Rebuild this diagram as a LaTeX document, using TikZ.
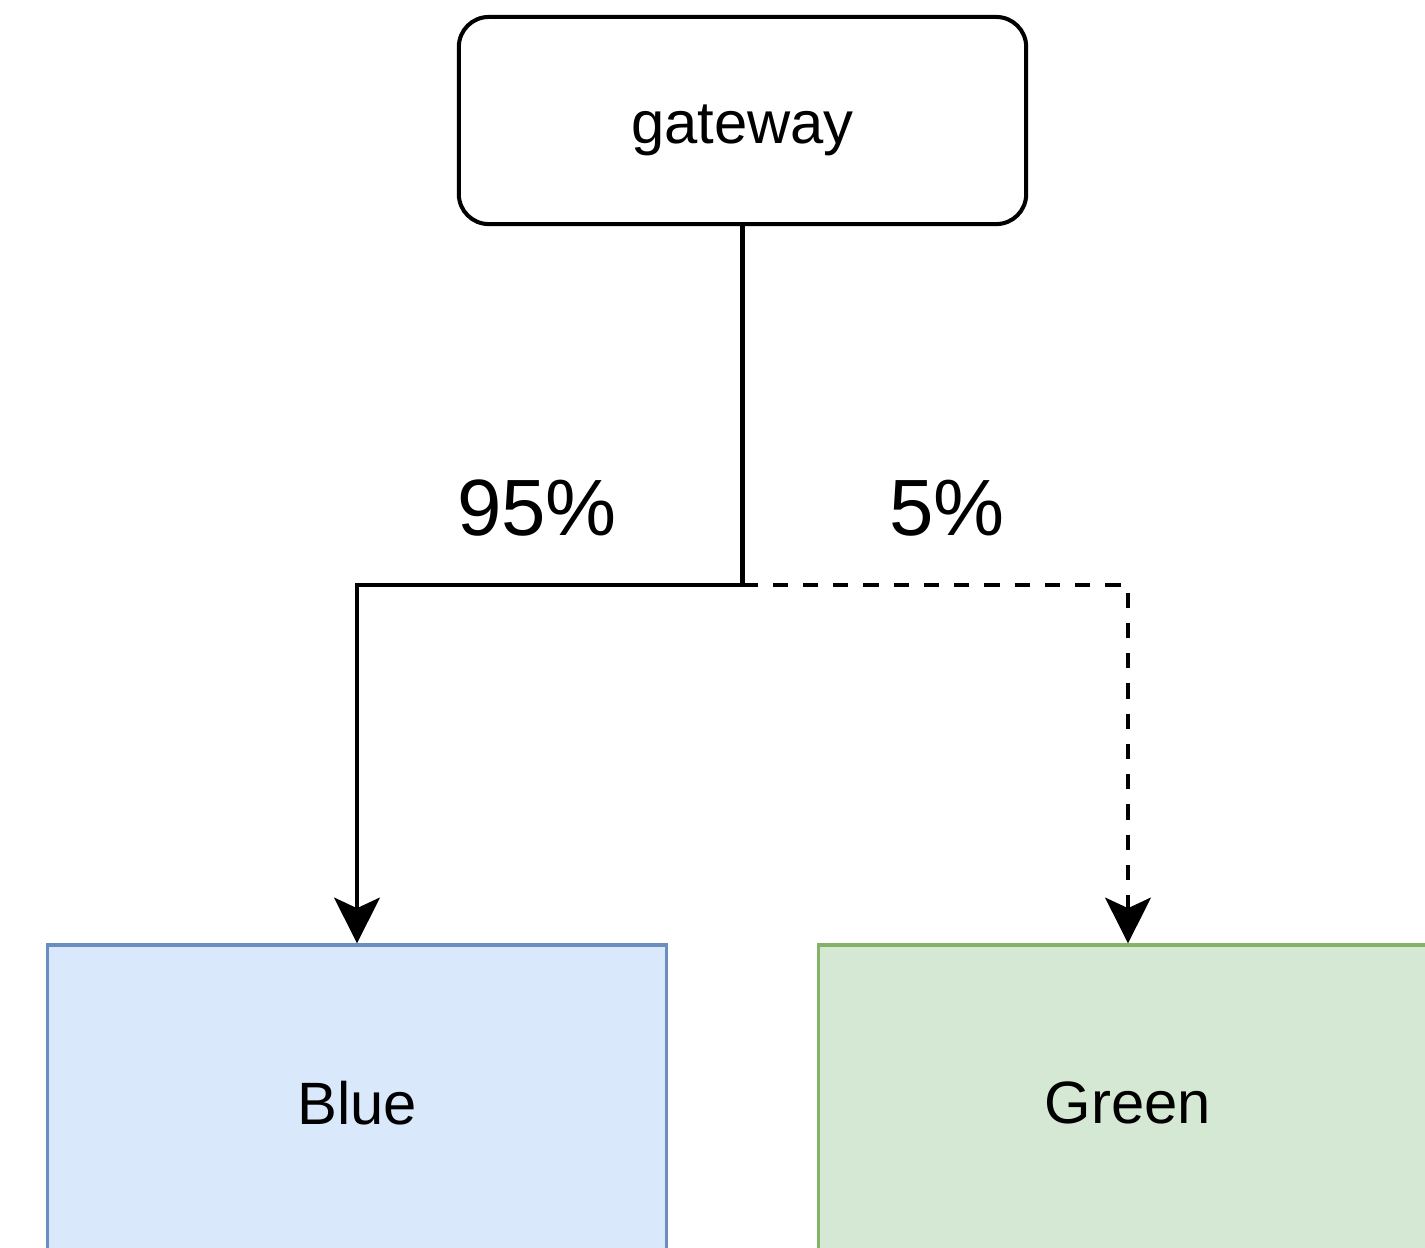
\documentclass[tikz,border=0pt]{standalone}
\usepackage{fontspec}
\setmainfont{Liberation Sans}
\usetikzlibrary{arrows.meta}
\definecolor{bluefill}{HTML}{DAE8FC}
\definecolor{bluedraw}{HTML}{6C8EBF}
\definecolor{greenfill}{HTML}{D5E8D4}
\definecolor{greendraw}{HTML}{82B366}
\tikzset{
  gwbox/.style={draw=black, line width=1.15pt, rounded corners=8.5pt, fill=white,
    minimum width=5.67cm, minimum height=2.07cm, inner sep=0pt,
    font=\fontsize{17}{20}\selectfont},
  colbox/.style={line width=0.9pt, minimum width=6.18cm, minimum height=3.16cm, inner sep=0pt,
    font=\fontsize{17}{20}\selectfont},
  pct/.style={inner sep=0pt, font=\fontsize{22.7}{26}\selectfont},
  conn/.style={draw=black, line width=1.15pt,
    -{Stealth[length=13pt, width=13pt, inset=3pt]}},
  dashconn/.style={conn, dash pattern=on 4.3pt off 4.3pt},
}
\begin{document}
\begin{tikzpicture}[x=0.01cm, y=-0.01cm]
  \fill[white] (0,0) rectangle (1425,1247);
  \clip (0,0) rectangle (1425,1247);
  \node[gwbox] (gw) at (742.5,120.5) {\raisebox{-2.8pt}[\height][\depth]{gateway}};
  \node[colbox, draw=bluedraw, fill=bluefill] (blue) at (357,1103) {Blue};
  \node[colbox, draw=greendraw, fill=greenfill] (green) at (1128,1103) {Green};
  \coordinate (split) at (742.5,585);
  \node[pct] (p95) at (537,508) {95\%};
  \node[pct] (p5) at (947,508) {5\%};
  \draw[conn] (gw.south) -- (split) -| (blue.north);
  \draw[dashconn] (split) -| (green.north);
\end{tikzpicture}
\end{document}
